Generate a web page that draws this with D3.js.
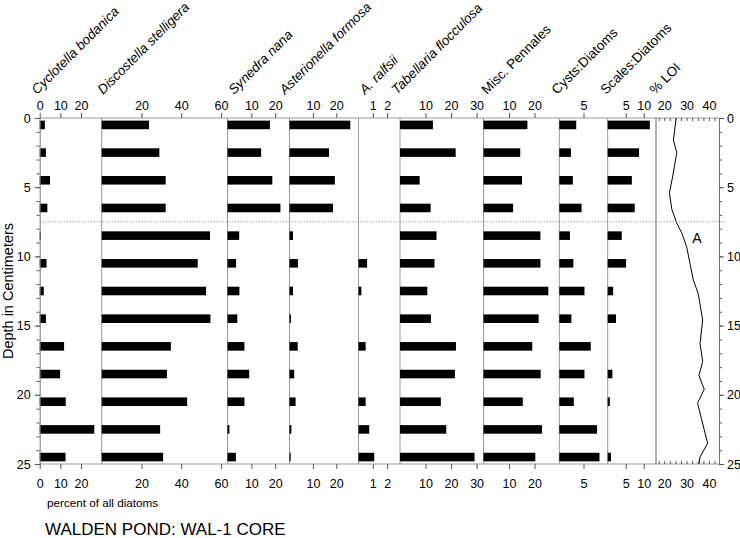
<!DOCTYPE html>
<html>
<head>
<meta charset="utf-8">
<script src="https://cdn.jsdelivr.net/npm/d3@7"></script>
<style>
  body { margin: 0; background: #fff; }
  svg { font-family: "Liberation Sans", Arial, sans-serif; }
</style>
</head>
<body>
<div id="chart"></div>
<script>
// sample depths (cm) for the bar panels
const depths = [0.5, 2.5, 4.5, 6.5, 8.5, 10.5, 12.5, 14.5, 16.5, 18.5, 20.5, 22.5, 24.5];

const cyclotella   = [2.5, 3, 5, 3.7, 0.5, 3.3, 2, 3, 11.8, 9.9, 12.6, 26.4, 12.5];
const discostella  = [23.8, 29, 32.2, 32.2, 54.5, 48.3, 52.5, 54.7, 34.8, 32.8, 43, 29.4, 30.9];
const synedra      = [17.8, 14.1, 18.8, 22.2, 4.9, 3.6, 5, 4.1, 7.1, 9.1, 7.1, 0.8, 3.5];
const asterionella = [26, 16.9, 19.4, 18.6, 1.5, 3.6, 1.5, 0.6, 3.5, 2, 2.6, 0.8, 0.5];
const ralfsii      = [0, 0, 0, 0, 0, 0.6, 0.2, 0, 0.5, 0, 0.5, 0.75, 1.1];
const tabellaria   = [12.9, 21.8, 7.7, 12, 14.3, 13.5, 10.7, 12.1, 21.9, 21.5, 16, 18.1, 29.2];
const pennales     = [17.2, 14.4, 15.1, 11.6, 22.3, 22.3, 25.4, 21.6, 19.1, 22.4, 15.4, 22.9, 20.3];
const cysts        = [3.5, 2.4, 2.8, 4.6, 2.2, 2.9, 5.2, 2.5, 6.5, 5.2, 3, 7.8, 8.3];
const scales       = [11.7, 8.7, 6.7, 7.5, 3.9, 5.1, 1.5, 2.3, 0, 1.3, 0.6, 0, 0.9];

// loss on ignition curve
const loiDepth = [0, 1.6, 2.5, 4.2, 5.4, 6.6, 7.6, 8.3, 9.3, 10.5, 11.7, 12.7, 14.6, 16.3, 17.6, 18.6, 19.6, 20.6, 23.5, 24.5, 25];
const loiValue = [25.3, 24.1, 25.6, 23.8, 22.3, 23.4, 25.6, 27.8, 30.0, 31.5, 33.0, 35.2, 37.2, 36.0, 37.2, 35.5, 37.9, 34.9, 39.4, 36.0, 35.5];

const panelNames = ["Cyclotella bodanica", "Discostella stelligera", "Synedra nana", "Asterionella formosa",
  "A. ralfsii", "Tabellaria flocculosa", "Misc. Pennales", "Cysts:Diatoms", "Scales:Diatoms", "% LOI"];
const panelItalic = [true, true, true, true, true, true, false, false, false, false];
const panelTicks = [[0, 10, 20], [20, 40, 60], [10, 20], [10, 20], [1, 2], [10, 20, 30], [10, 20], [5], [5, 10], [20, 30, 40]];
const panelMax = [30, 63.3, 26, 29.5, 2.9, 32.7, 29.7, 10, 13.4];
const loiDomain = [16.3, 44.5];
const barSeries = [cyclotella, discostella, synedra, asterionella, ralfsii, tabellaria, pennales, cysts, scales];

// layout
const width = 740, height = 538;
const plotTop = 118, plotBottom = 464;
const edges = [39.7, 101.7, 227.5, 289.5, 358.5, 400, 483.5, 559.3, 607.7, 656, 719];
const labelX = [37, 103, 234, 285, 365, 397, 487, 557, 606, 655];
const fmt = d3.format("~g");

const svg = d3.select("#chart").append("svg")
  .attr("width", width).attr("height", height);

const y = d3.scaleLinear().domain([0, 25]).range([plotTop, plotBottom]);

const xs = edges.slice(0, -1).map((e, i) => {
  if (i === 9) return d3.scaleLinear().domain(loiDomain).range([e, edges[i + 1]]);
  return d3.scaleLinear().domain([0, panelMax[i]]).range([e, edges[i + 1]]);
});

function styleAxis(g) {
  g.select(".domain").remove();
  g.selectAll("line").attr("stroke", "#555");
  g.selectAll("text").attr("font-size", 12.5).attr("fill", "#000")
    .attr("font-family", "Liberation Sans, Arial, sans-serif");
}

function styleAxisKeepDomain(g) {
  g.select(".domain").attr("stroke", "#777");
  g.selectAll("line").attr("stroke", "#555");
}

// horizontal frame lines
svg.append("line").attr("x1", edges[0]).attr("x2", edges[10]).attr("y1", plotTop).attr("y2", plotTop)
  .attr("stroke", "#999");
svg.append("line").attr("x1", edges[0]).attr("x2", edges[10]).attr("y1", plotBottom).attr("y2", plotBottom)
  .attr("stroke", "#999");

// panel separators
svg.append("g").selectAll("line")
  .data(edges.slice(1, 10))
  .join("line")
    .attr("x1", d => d).attr("x2", d => d)
    .attr("y1", plotTop).attr("y2", plotBottom)
    .attr("stroke", (d, i) => i === 8 ? "#666" : "#999");

// bars
const barH = y(0.62) - y(0);
barSeries.forEach((vals, i) => {
  svg.append("g")
    .selectAll("rect")
    .data(vals)
    .join("rect")
      .attr("x", xs[i](0))
      .attr("y", (d, j) => y(depths[j]) - barH / 2)
      .attr("width", d => xs[i](d) - xs[i](0))
      .attr("height", barH)
      .attr("fill", "#000");
});

// LOI line
svg.append("path")
  .datum(loiDepth.map((d, i) => [loiValue[i], d]))
  .attr("fill", "none")
  .attr("stroke", "#000")
  .attr("stroke-width", 1)
  .attr("d", d3.line().x(d => xs[9](d[0])).y(d => y(d[1])));

svg.append("text")
  .attr("x", 697).attr("y", 243)
  .attr("font-size", 14)
  .attr("text-anchor", "middle")
  .text("A");

// dotted zone boundary
svg.append("line")
  .attr("x1", edges[0]).attr("x2", 725)
  .attr("y1", y(7.5)).attr("y2", y(7.5))
  .attr("stroke", "#777")
  .attr("stroke-dasharray", "1,2");

// top and bottom axes for each panel
xs.forEach((x, i) => {
  if (i === 9) {
    const minor = d3.range(17.5, 43, 2.5);
    svg.append("g").attr("transform", `translate(0,${plotTop})`)
      .call(d3.axisBottom(x).tickValues(minor).tickSize(3).tickFormat(""))
      .call(styleAxis);
    svg.append("g").attr("transform", `translate(0,${plotBottom})`)
      .call(d3.axisTop(x).tickValues(minor).tickSize(3).tickFormat(""))
      .call(styleAxis);
    svg.append("g").attr("transform", `translate(0,${plotTop})`)
      .call(d3.axisTop(x).tickValues(panelTicks[i]).tickSize(0).tickPadding(8).tickFormat(fmt))
      .call(styleAxis);
    svg.append("g").attr("transform", `translate(0,${plotBottom})`)
      .call(d3.axisBottom(x).tickValues(panelTicks[i]).tickSize(0).tickPadding(15).tickFormat(fmt))
      .call(styleAxis);
    return;
  }
  svg.append("g").attr("transform", `translate(0,${plotTop})`)
    .call(d3.axisTop(x).tickValues(panelTicks[i]).tickSize(5).tickPadding(3).tickFormat(fmt))
    .call(styleAxis);
  svg.append("g").attr("transform", `translate(0,${plotBottom})`)
    .call(d3.axisBottom(x).tickValues(panelTicks[i]).tickSize(5).tickPadding(10).tickFormat(fmt))
    .call(styleAxis);
});

// depth axes
const majorDepth = [0, 5, 10, 15, 20, 25];
const minorDepth = d3.range(0, 26, 1);
svg.append("g").attr("transform", `translate(${edges[0]},0)`)
  .call(d3.axisLeft(y).tickValues(minorDepth).tickSize(3).tickFormat(""))
  .call(styleAxisKeepDomain);
svg.append("g").attr("transform", `translate(${edges[0]},0)`)
  .call(d3.axisLeft(y).tickValues(majorDepth).tickSize(5).tickPadding(4))
  .call(styleAxis);
svg.append("g").attr("transform", `translate(${edges[10]},0)`)
  .call(d3.axisRight(y).tickValues(minorDepth).tickSize(3).tickFormat(""))
  .call(styleAxisKeepDomain);
svg.append("g").attr("transform", `translate(${edges[10]},0)`)
  .call(d3.axisRight(y).tickValues(majorDepth).tickSize(5).tickPadding(3))
  .call(styleAxis);

// panel titles
svg.append("g").selectAll("text")
  .data(panelNames)
  .join("text")
    .attr("transform", (d, i) => `translate(${labelX[i]},95) rotate(-45)`)
    .attr("font-size", 13.5)
    .attr("font-style", (d, i) => panelItalic[i] ? "italic" : "normal")
    .text(d => d);

svg.append("text")
  .attr("transform", `translate(13,${y(12.5)}) rotate(-90)`)
  .attr("text-anchor", "middle")
  .attr("font-size", 14.5)
  .text("Depth in Centimeters");

svg.append("text")
  .attr("x", 47).attr("y", 507)
  .attr("font-size", 11.7)
  .text("percent of all diatoms");

svg.append("text")
  .attr("x", 45).attr("y", 535)
  .attr("font-size", 17)
  .text("WALDEN POND: WAL-1 CORE");
</script>
</body>
</html>
